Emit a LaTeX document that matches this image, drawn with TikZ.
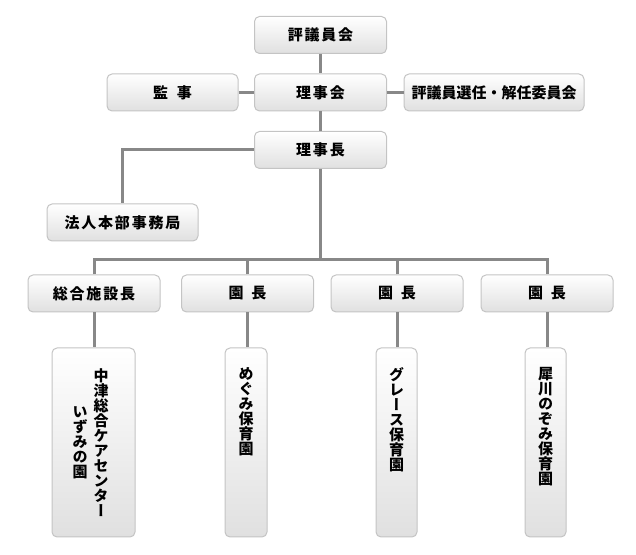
\documentclass[tikz,border=0pt]{standalone}
\usepackage{fontspec}
\newfontfamily\jp{Noto Sans CJK JP}[LetterSpace=12]
\newfontfamily\jpn{Noto Sans CJK JP}
\newfontfamily\jpv{Noto Sans CJK JP}[RawFeature=+vert]
\definecolor{linegray}{RGB}{136,136,136}
\definecolor{boxborder}{RGB}{196,196,196}
\definecolor{boxbottom}{RGB}{224,224,224}
\setlength{\lineskiplimit}{-100pt}
\tikzset{
  box/.style={draw=boxborder, line width=0.75pt, rounded corners=3.75pt,
    top color=white, bottom color=boxbottom, inner sep=0pt,
    font=\jp\bfseries\fontsize{11.25}{13}\selectfont},
  sz/.style 2 args={minimum width={#1*0.75pt}, minimum height={#2*0.75pt}},
  conn/.style={draw=linegray, line width=2.25pt},
  vtext/.style={inner sep=0pt, align=center,
    font=\jpv\bfseries\fontsize{11.25}{11.25}\selectfont},
}
\begin{document}
\begin{tikzpicture}[x=0.75pt, y=-0.75pt]
\useasboundingbox (0,0) rectangle (636,555);
% boxes
\node[box, sz={132}{37}] (hyo) at (320.5,35) {評議員会};
\node[box, sz={131}{37}] (kanji) at (172.5,92.5) {監\hspace{6.5pt}事};
\node[box, sz={132}{37}] (rijikai) at (320.5,92.5) {理事会};
\node[box, sz={180}{37}, font=\jpn\bfseries\fontsize{11.25}{13}\selectfont] (iinkai) at (494,92.5) {評議員選任・解任委員会};
\node[box, sz={132}{37}] (rijicho) at (320.5,150) {理事長};
\node[box, sz={151}{37}] (houjin) at (122.5,222.5) {法人本部事務局};
\node[box, sz={132}{37}] (sou) at (94,293.5) {総合施設長};
\node[box, sz={132}{37}] (en1) at (247.5,293.5) {園\hspace{6pt}長};
\node[box, sz={132}{37}] (en2) at (397,293.5) {園\hspace{6pt}長};
\node[box, sz={132}{37}] (en3) at (547,293.5) {園\hspace{6pt}長};
\node[box, sz={83}{189}] (nakatsu) at (93.5,442.5) {};
\node[box, sz={42}{189}] (megumi) at (246,442.5) {};
\node[box, sz={41}{189}] (grace) at (396.5,442.5) {};
\node[box, sz={41}{189}] (saigawa) at (545.5,442.5) {};
% vertical texts
\node[vtext] (t1a) at (101,442.5) {中\\津\\総\\合\\ケ\\ア\\セ\\ン\\タ\\ー};
\node[vtext] (t1b) at (80,442.5) {い\\ず\\み\\の\\園};
\node[vtext, anchor=north] (t2) at (246,367) {め\\ぐ\\み\\保\\育\\園};
\node[vtext, anchor=north] (t3) at (396.5,367) {グ\\レ\\ー\\ス\\保\\育\\園};
\node[vtext, anchor=north] (t4) at (545.5,367) {犀\\川\\の\\ぞ\\み\\保\\育\\園};
% connectors
\coordinate (bar) at (320.5,260);
\draw[conn] (hyo) -- (rijikai);
\draw[conn] (kanji) -- (rijikai);
\draw[conn] (rijikai) -- (iinkai);
\draw[conn] (rijikai) -- (rijicho);
\draw[conn] (rijicho.west) -| (houjin.north);
\draw[conn] (rijicho.south) -- (bar);
\draw[conn] (sou.north) |- (bar) -| (en3.north);
\draw[conn] (en1.north) -- (en1.north |- bar);
\draw[conn] (en2.north) -- (en2.north |- bar);
\draw[conn] (sou.south) -- (sou.south |- nakatsu.north);
\draw[conn] (en1.south) -- (en1.south |- megumi.north);
\draw[conn] (en2.south) -- (en2.south |- grace.north);
\draw[conn] (en3.south) -- (en3.south |- saigawa.north);
\end{tikzpicture}
\end{document}
